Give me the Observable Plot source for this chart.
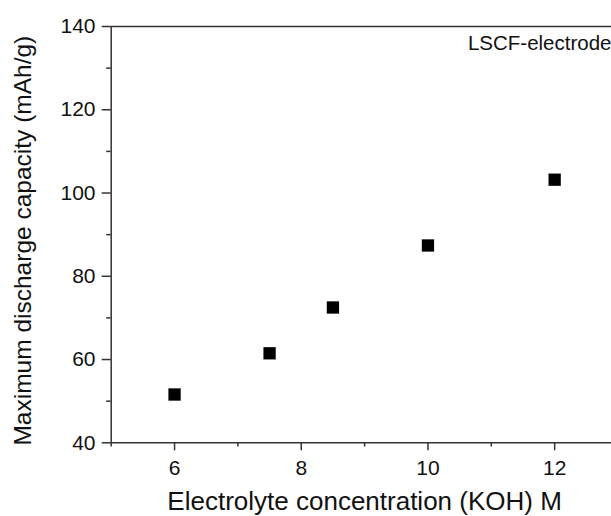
<!DOCTYPE html>
<html><head><meta charset="utf-8">
<script src="https://cdn.jsdelivr.net/npm/d3@7"></script>
<script src="https://cdn.jsdelivr.net/npm/@observablehq/plot@0.6"></script>
<style>
html,body{margin:0;padding:0;background:#fff;overflow:hidden;}
svg{max-width:none !important;}
</style></head><body><div id="chart"></div>
<script>
const concentration = [6, 7.5, 8.5, 10, 12];
const capacity = [51.6, 61.5, 72.5, 87.4, 103.2];
const xTicks = [6, 8, 10, 12];
const xMinor = [5, 7, 9, 11, 13];
const yTicks = [40, 60, 80, 100, 120, 140];
const yMinor = [50, 70, 90, 110, 130];
const xTitle = "Electrolyte concentration (KOH) M";
const yTitle = "Maximum discharge capacity (mAh/g)";
const note = "LSCF-electrode";

const data = concentration.map((c, i) => ({c, v: capacity[i]}));
const stroke = "#333";
const font = "'Liberation Sans', Arial, sans-serif";

const plot = Plot.plot({
  width: 620, height: 516,
  marginLeft: 110.7, marginRight: 2.5, marginTop: 26, marginBottom: 73.7,
  style: {fontFamily: font, fontSize: "21px", color: "#111", background: "#fff", overflow: "visible", maxWidth: "none"},
  x: {domain: [5, 13]},
  y: {domain: [40, 140]},
  marks: [
    Plot.ruleY([140], {stroke, strokeWidth: 1.5}),
    Plot.ruleX([13], {stroke, strokeWidth: 1.5}),
    Plot.axisX(xMinor, {tickSize: 4.3, tickFormat: () => "", stroke, strokeWidth: 1.5, label: null}),
    Plot.axisY(yMinor, {tickSize: 4.5, tickFormat: () => "", stroke, strokeWidth: 1.5, label: null}),
    Plot.axisX(xTicks, {tickSize: 8, tickPadding: 9.7, stroke, strokeWidth: 1.5, fill: "#111", fontSize: 21, label: null}),
    Plot.axisY(yTicks, {tickSize: 9, tickPadding: 6.7, stroke, strokeWidth: 1.5, fill: "#111", fontSize: 21, label: null}),
    Plot.ruleX([5], {stroke, strokeWidth: 1.5}),
    Plot.ruleY([40], {stroke, strokeWidth: 1.5}),
    Plot.dot(data, {x: "c", y: "v", symbol: "square", r: 6.94, fill: "#000", stroke: null}),
    Plot.text([xTitle], {text: d => d, frameAnchor: "bottom", textAnchor: "middle", lineAnchor: "bottom", dy: 67, fontSize: 26, fill: "#111"}),
    Plot.text([yTitle], {text: d => d, frameAnchor: "left", textAnchor: "middle", lineAnchor: "bottom", rotate: -90, dx: -80, dy: 6, fontSize: 24.5, fill: "#111"}),
    Plot.text([note], {text: d => d, frameAnchor: "top-right", textAnchor: "end", lineAnchor: "top", dx: -6.5, dy: 8.5, fontSize: 20.5, fill: "#111"})
  ]
});
document.getElementById("chart").appendChild(plot);
</script></body></html>
